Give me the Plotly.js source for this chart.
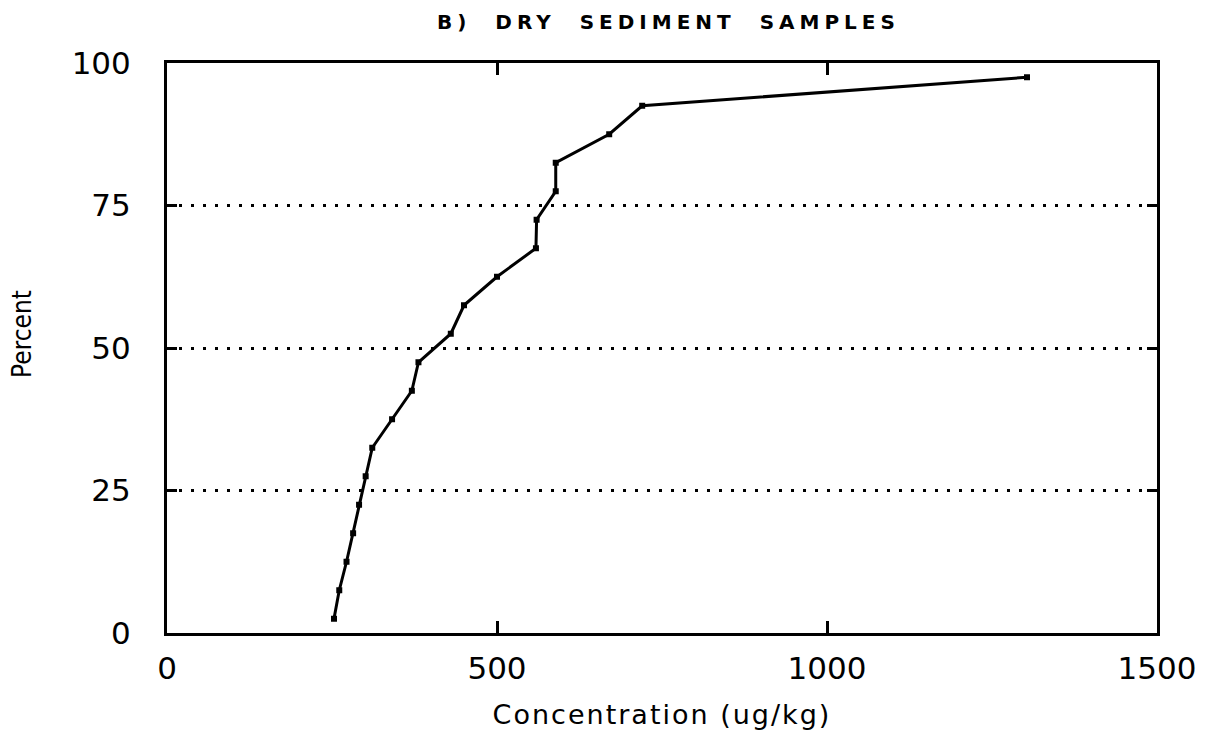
<!DOCTYPE html>
<html>
<head>
<meta charset="utf-8">
<script src="https://cdn.plot.ly/plotly-3.0.1.min.js"></script>
<style>
html,body{margin:0;padding:0;background:#fff;}
#chart{width:1211px;height:748px;}
#chart .gtitle{letter-spacing:5px;}
#chart .xtitle{letter-spacing:2px;}
</style>
</head>
<body>
<div id="chart"></div>
<script>
const concentration = [253, 261, 272, 282, 291, 301, 311, 341, 371, 381, 430, 450, 500, 559, 560, 589, 589, 670, 720, 1303];
const percent = [2.5, 7.5, 12.5, 17.5, 22.5, 27.5, 32.5, 37.5, 42.5, 47.5, 52.5, 57.5, 62.5, 67.5, 72.5, 77.5, 82.5, 87.5, 92.5, 97.5];
const xTicks = [0, 500, 1000, 1500];
const yTicks = [0, 25, 50, 75, 100];

const trace = {
  x: concentration, y: percent, type: 'scatter', mode: 'lines+markers',
  line: {color: '#000', width: 3},
  marker: {symbol: 'square', size: 6, color: '#000'},
  showlegend: false, hoverinfo: 'x+y'
};

const layout = {
  width: 1211, height: 748,
  margin: {l: 167, r: 54, t: 63, b: 115},
  paper_bgcolor: '#fff', plot_bgcolor: '#fff',
  font: {family: 'DejaVu Sans, sans-serif', color: '#000'},
  title: {text: '<b>B)  DRY  SEDIMENT  SAMPLES</b>', x: 0.552, xanchor: 'center', y: 0.971, yanchor: 'middle',
          font: {family: 'DejaVu Sans, sans-serif', size: 20, color: '#000'}},
  xaxis: {
    range: [0, 1500], tickvals: xTicks, ticktext: xTicks.map(String),
    showgrid: false, zeroline: false, showline: true, linecolor: '#000', linewidth: 3,
    mirror: 'ticks', ticks: 'inside', ticklen: 12, tickwidth: 3, tickcolor: '#000',
    tickfont: {size: 31}, ticklabelstandoff: 6,
    title: {text: 'Concentration (ug/kg)', font: {size: 27}, standoff: 20}
  },
  yaxis: {
    range: [0, 100], tickvals: yTicks, ticktext: yTicks.map(String),
    showgrid: true, gridcolor: '#000', gridwidth: 3, griddash: '3px,9px',
    zeroline: false, showline: true, linecolor: '#000', linewidth: 3,
    mirror: 'ticks', ticks: 'inside', ticklen: 10, tickwidth: 3, tickcolor: '#000',
    tickfont: {size: 31}, ticklabelstandoff: 27
  },
  annotations: [{
    text: 'Percent', xref: 'paper', yref: 'paper', x: -0.1465, y: 0.5246,
    xanchor: 'center', yanchor: 'middle', textangle: -90, showarrow: false,
    font: {family: 'DejaVu Sans Condensed, sans-serif', size: 26, color: '#000'}
  }]
};

Plotly.newPlot('chart', [trace], layout, {displayModeBar: false, staticPlot: true});
</script>
</body>
</html>
